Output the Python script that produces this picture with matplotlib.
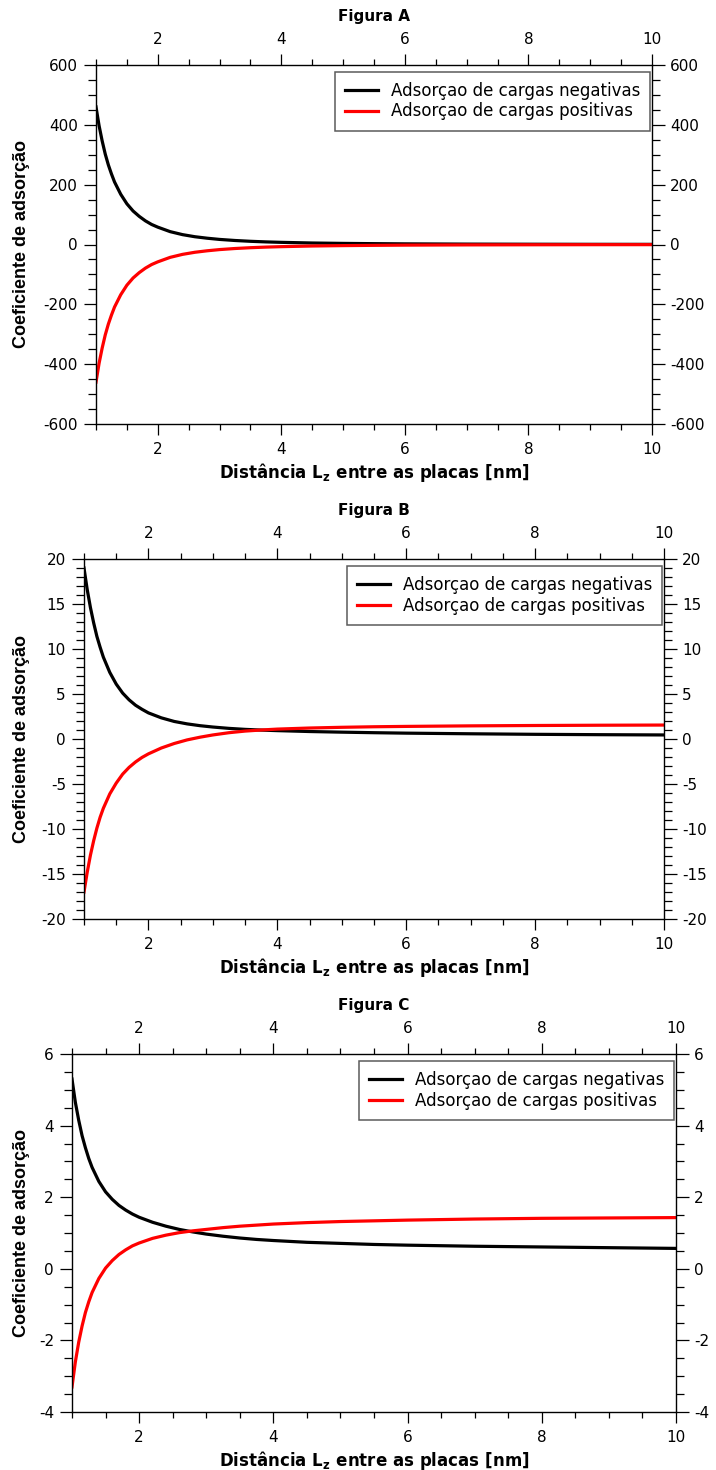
import matplotlib
matplotlib.use("Agg")
import matplotlib.pyplot as plt
from matplotlib.ticker import MultipleLocator

plt.rcParams["font.family"] = ["DejaVu Sans"]
plt.rcParams["axes.unicode_minus"] = False

# distancia entre as placas (nm)
lz = [1.0, 1.05, 1.1, 1.15, 1.2, 1.25, 1.3, 1.4, 1.5, 1.6, 1.7, 1.8, 1.9, 2.0,
      2.2, 2.4, 2.6, 2.8, 3.0, 3.25, 3.5, 3.75, 4.0, 4.5, 5.0, 5.5, 6.0,
      7.0, 8.0, 9.0, 10.0]

# Figura A
neg_a = [460, 397, 346, 302, 266, 236, 209, 168, 136, 112, 94, 79, 67, 58,
         43, 33, 26, 21, 17, 13.4, 10.7, 8.7, 7.2, 5.0, 3.7, 2.8, 2.1,
         1.3, 0.9, 0.6, 0.5]
pos_a = [-460, -397, -346, -302, -266, -236, -209, -168, -136, -112, -94, -79, -67, -58,
         -43, -33, -26, -21, -17, -13.4, -10.7, -8.7, -7.2, -5.0, -3.7, -2.8, -2.1,
         -1.3, -0.9, -0.6, -0.5]

# Figura B
neg_b = [19.0, 16.6, 14.6, 12.9, 11.4, 10.2, 9.1, 7.4, 6.1, 5.1, 4.35, 3.75, 3.3, 2.9,
         2.35, 1.95, 1.68, 1.48, 1.33, 1.18, 1.07, 0.99, 0.93, 0.83, 0.76, 0.70, 0.65,
         0.58, 0.52, 0.48, 0.45]
pos_b = [-17.0, -14.8, -12.9, -11.3, -9.9, -8.7, -7.7, -6.1, -4.9, -3.9, -3.15, -2.55, -2.05, -1.65,
         -1.0, -0.5, -0.1, 0.2, 0.45, 0.7, 0.88, 1.0, 1.1, 1.22, 1.3, 1.36, 1.4,
         1.46, 1.5, 1.53, 1.55]

# Figura C
neg_c = [5.3, 4.65, 4.15, 3.72, 3.38, 3.08, 2.83, 2.44, 2.15, 1.94, 1.77, 1.64, 1.53, 1.44,
         1.3, 1.19, 1.1, 1.03, 0.97, 0.91, 0.86, 0.82, 0.79, 0.74, 0.71, 0.68, 0.66,
         0.63, 0.61, 0.59, 0.57]
pos_c = [-3.3, -2.6, -2.05, -1.6, -1.22, -0.92, -0.66, -0.27, 0.02, 0.23, 0.40, 0.53, 0.64, 0.72,
         0.85, 0.94, 1.01, 1.06, 1.1, 1.15, 1.19, 1.22, 1.25, 1.29, 1.32, 1.34, 1.36,
         1.39, 1.41, 1.42, 1.43]

W, H = 716, 1470
fig = plt.figure(figsize=(W / 100, H / 100), dpi=100)


def painel(box, titulo, neg, pos, ylim, major, minor, ylab_x):
    left, top, right, bottom = box
    ax = fig.add_axes([left / W, (H - bottom) / H, (right - left) / W, (bottom - top) / H])
    ax.plot(lz, neg, color="black", lw=2.3, label="Adsorçao de cargas negativas")
    ax.plot(lz, pos, color="#ff0000", lw=2.3, label="Adsorçao de cargas positivas")
    ax.set_xlim(1, 10)
    ax.set_ylim(*ylim)
    ax.xaxis.set_major_locator(MultipleLocator(2))
    ax.xaxis.set_minor_locator(MultipleLocator(0.5))
    ax.yaxis.set_major_locator(MultipleLocator(major))
    ax.yaxis.set_minor_locator(MultipleLocator(minor))
    ax.tick_params(which="both", direction="out", top=True, right=True,
                   labeltop=True, labelright=True, labelsize=11, width=0.9)
    ax.tick_params(axis="x", which="major", length=8, pad=5)
    ax.tick_params(axis="x", which="minor", length=4.5)
    ax.tick_params(axis="y", which="major", length=9, pad=4)
    ax.tick_params(axis="y", which="minor", length=5.5)
    for s in ax.spines.values():
        s.set_linewidth(1.0)

    ax.set_xlabel(r"Distância L$_\mathbf{z}$ entre as placas [nm]", fontsize=12, fontweight="bold")
    ax.xaxis.set_label_coords(0.5, -37 / (bottom - top))
    ax.set_ylabel("Coeficiente de adsorção", fontsize=13, fontweight="bold",
                  family=["Liberation Sans"])
    ax.yaxis.set_label_coords((ylab_x - left) / (right - left), 0.5)
    ax.text(0.5, 1 + 49 / (bottom - top), titulo, transform=ax.transAxes,
            ha="center", va="center", fontsize=11, fontweight="bold")

    leg = ax.legend(loc="upper right", bbox_to_anchor=(1.0 - 2 / (right - left), 1 - 7 / (bottom - top)),
                    borderaxespad=0, fontsize=12, frameon=True, fancybox=False,
                    handlelength=2.0, handletextpad=0.75, labelspacing=0.15, borderpad=0.6)
    leg.get_frame().set_edgecolor("#333333")
    leg.get_frame().set_linewidth(1.1)
    return ax


painel((96, 65, 652, 424), "Figura A", neg_a, pos_a, (-600, 600), 200, 50, 30)
painel((84, 559, 664, 919), "Figura B", neg_b, pos_b, (-20, 20), 5, 1, 30)
painel((72, 1054, 676, 1412), "Figura C", neg_c, pos_c, (-4, 6), 2, 0.5, 30)

plt.savefig("out.png", dpi=100)
